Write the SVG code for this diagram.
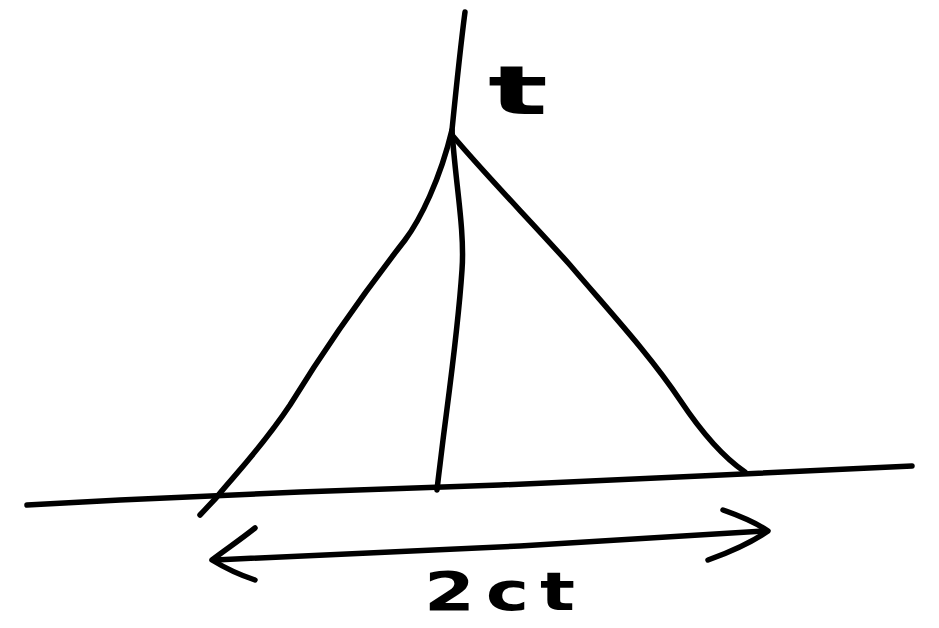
<svg xmlns="http://www.w3.org/2000/svg" width="939" height="628" viewBox="0 0 939 628">
<style>
.ink{fill:none;stroke:#000;stroke-width:5.5;stroke-linecap:round;stroke-linejoin:round}
.lbl{font-family:"DejaVu Sans","Liberation Sans",sans-serif;font-weight:bold;fill:#000}
</style>
<rect width="939" height="628" fill="#fff"/>
<g id="connectors">
<path class="ink" d="M465,12 C460,50 455,100 452,130 C455,180 465,230 462,270 C458,330 448,400 443,440 C440,465 438,480 437,490"/>
<path class="ink" d="M452,130 C440,180 420,220 405,240 C370,285 330,340 290,405 C260,450 230,480 216,498 L200,515"/>
<path class="ink" d="M452,135 C490,180 530,220 570,265 C610,312 650,355 680,400 C700,430 720,455 745,472"/>
<path class="ink" d="M27,505 L120,500 L300,492 L500,485 L700,476 L912,466"/>
<path class="ink" d="M215,560 L520,546 L765,531"/>
<path class="ink" d="M255,528 C240,540 225,550 212,560 C225,568 240,575 255,580"/>
<path class="ink" d="M723,510 C740,516 755,522 768,531 C752,542 730,552 708,560"/>
</g>
<g id="label-t"><text class="lbl" x="488" y="114" font-size="68" textLength="60" lengthAdjust="spacingAndGlyphs">t</text></g>
<g id="label-2ct"><text class="lbl" x="424" y="610" font-size="54" letter-spacing="8" textLength="162" lengthAdjust="spacingAndGlyphs">2ct</text></g>
</svg>
